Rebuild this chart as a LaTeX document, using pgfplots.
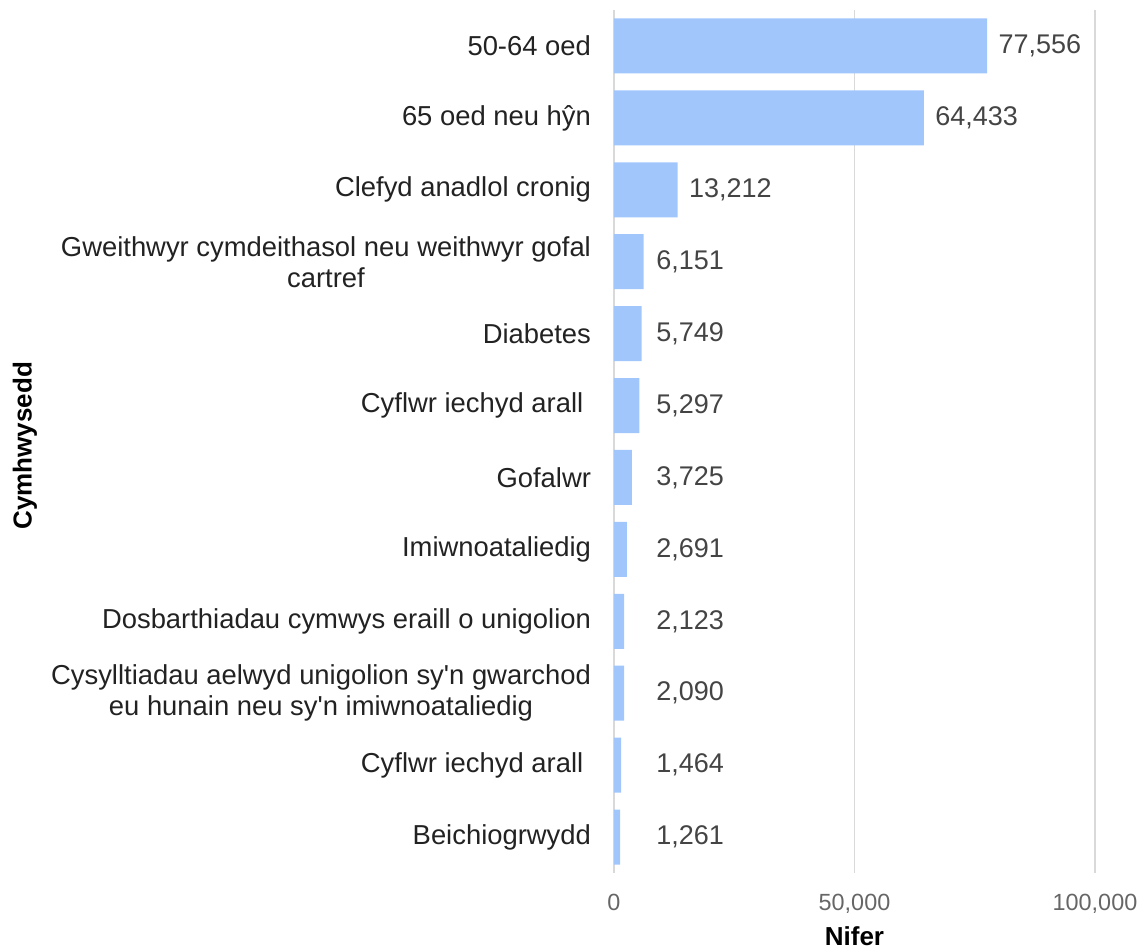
\documentclass[border=0pt]{standalone}
\usepackage{fontspec}
\setmainfont{Liberation Sans}
\usepackage{pgfplots}
\pgfplotsset{compat=1.18}
\usepackage{pgfplotstable}

\definecolor{barblue}{HTML}{A0C6FC}
\definecolor{gridgray}{HTML}{D9D9D9}
\definecolor{ticktext}{HTML}{666666}
\definecolor{valtext}{HTML}{444444}
\definecolor{cattext}{HTML}{222222}

% i = row, v = count, lx = where the value label starts
\pgfplotstableread{
i  v      lx
0  77556  79856
1  64433  66733
2  13212  15512
3  6151   8730
4  5749   8730
5  5297   8730
6  3725   8730
7  2691   8730
8  2123   8730
9  2090   8730
10 1464   8730
11 1261   8730
}\cymdata

\newcommand{\ap}{\textquotesingle}

\begin{document}
\begin{tikzpicture}
\begin{axis}[
    scale only axis,
    width=240.5pt, height=431.5pt,
    xmin=0, xmax=100000,
    ymin=-0.5, ymax=11.5,
    y dir=reverse,
    xtick={0,50000,100000},
    scaled x ticks=false,
    ytick={0,...,11},
    yticklabels={
        50-64 oed,
        65 oed neu hŷn,
        Clefyd anadlol cronig,
        {Gweithwyr cymdeithasol neu weithwyr gofal\\cartref},
        Diabetes,
        {Cyflwr iechyd arall\kern0.28em},
        Gofalwr,
        Imiwnoataliedig,
        Dosbarthiadau cymwys eraill o unigolion,
        {Cysylltiadau aelwyd unigolion sy\ap n gwarchod\\eu hunain neu sy\ap n imiwnoataliedig},
        {Cyflwr iechyd arall\kern0.28em},
        Beichiogrwydd},
    /pgf/number format/fixed,
    /pgf/number format/precision=0,
    /pgf/number format/1000 sep={,},
    /pgf/number format/assume math mode=true,
    axis line style={draw=none},
    major tick length=0pt,
    xmajorgrids,
    major grid style={gridgray, line width=0.7pt},
    xticklabel style={font=\fontsize{11.7}{14}\selectfont, text=ticktext,
        anchor=base, yshift=-18.5pt},
    yticklabel style={font=\fontsize{13.7}{15.5}\selectfont, text=cattext,
        align=center, xshift=-8pt},
    xlabel={Nifer},
    ylabel={Cymhwysedd},
    every axis x label/.style={at={(rel axis cs:0.5,-0.0835)}, anchor=base,
        inner sep=0pt, font=\bfseries\fontsize{13}{15}\selectfont},
    every axis y label/.style={at={(rel axis cs:-1.2245,0.495)}, rotate=90,
        anchor=center, font=\bfseries\fontsize{13}{15}\selectfont},
    clip=false,
]
\addplot[xbar, bar width=0.765, fill=barblue, draw=none]
    table[x=v, y=i] {\cymdata};
\addplot[draw=none, nodes near coords, point meta=explicit,
    nodes near coords style={anchor=west, inner sep=0pt, text=valtext,
        font=\fontsize{13.5}{15}\selectfont}]
    table[x=lx, y=i, meta=v] {\cymdata};
\coordinate (bbl) at (rel axis cs:-1.2765,-0.0895);
\coordinate (btr) at (rel axis cs:1.0998,1.0116);
\end{axis}
\pgfresetboundingbox
\path[use as bounding box] (bbl) rectangle (btr);
\end{tikzpicture}
\end{document}
